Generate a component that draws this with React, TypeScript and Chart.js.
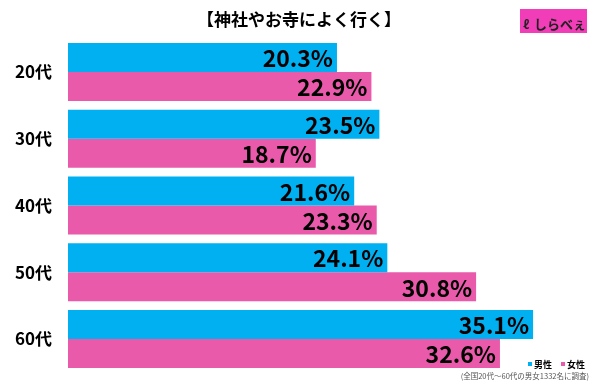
import React, { useEffect, useRef } from "react";
import { Chart, registerables } from "chart.js";

Chart.register(...registerables);

const categories = ["20代", "30代", "40代", "50代", "60代"];
const maleValues = [20.3, 23.5, 21.6, 24.1, 35.1];
const femaleValues = [22.9, 18.7, 23.3, 30.8, 32.6];
const seriesNames = ["男性", "女性"];
const titleText = "【神社やお寺によく行く】";
const footnoteText = "(全国20代～60代の男女1332名に調査)";
const logoText = "しらべぇ";

const BLUE = "#00B0F0";
const PINK = "#E95AAB";
const JP = '"Noto Sans CJK JP", "Noto Sans", sans-serif';

const decorPlugin = {
  id: "decor",
  afterDatasetsDraw(chart: any) {
    const ctx = chart.ctx as CanvasRenderingContext2D;
    ctx.save();
    // value labels
    ctx.fillStyle = "#000";
    ctx.font = `bold 23px ${JP}`;
    ctx.textAlign = "right";
    ctx.textBaseline = "middle";
    chart.data.datasets.forEach((ds: any, di: number) => {
      const meta = chart.getDatasetMeta(di);
      meta.data.forEach((el: any, i: number) => {
        ctx.fillText(ds.data[i].toFixed(1) + "%", el.x - 4, el.y + 1);
      });
    });
    // title
    ctx.textAlign = "center";
    ctx.font = `bold 17px ${JP}`;
    ctx.fillText(titleText, 299, 20);
    // logo
    ctx.fillStyle = "#F23DB8";
    ctx.fillRect(520, 9, 67, 24);
    ctx.fillStyle = "#222";
    ctx.font = `bold 12px ${JP}`;
    ctx.textAlign = "left";
    ctx.fillText("ℓ", 523, 24);
    ctx.font = `bold 13px ${JP}`;
    ctx.fillText(logoText, 534, 24);
    // legend
    ctx.font = `bold 9px ${JP}`;
    ctx.fillStyle = BLUE;
    ctx.fillRect(528, 362, 4, 4);
    ctx.fillStyle = "#000";
    ctx.fillText(seriesNames[0], 534, 364.5);
    ctx.fillStyle = PINK;
    ctx.fillRect(561, 362, 4, 4);
    ctx.fillStyle = "#000";
    ctx.fillText(seriesNames[1], 567, 364.5);
    // footnote
    ctx.font = `7.5px ${JP}`;
    ctx.fillStyle = "#555";
    ctx.textAlign = "right";
    ctx.fillText(footnoteText, 589, 376);
    ctx.restore();
  },
};

export default function App() {
  const ref = useRef<HTMLCanvasElement>(null);
  useEffect(() => {
    if (!ref.current) return;
    const chart = new Chart(ref.current, {
      type: "bar",
      data: {
        labels: categories,
        datasets: [
          { label: seriesNames[0], data: maleValues, backgroundColor: BLUE, borderWidth: 0 },
          { label: seriesNames[1], data: femaleValues, backgroundColor: PINK, borderWidth: 0 },
        ],
      },
      options: {
        indexAxis: "y",
        responsive: false,
        animation: false,
        devicePixelRatio: 1,
        layout: { padding: { top: 38.6, bottom: 11.6, left: 0, right: 2 } },
        datasets: { bar: { categoryPercentage: 0.87, barPercentage: 1 } },
        scales: {
          x: { display: false, min: 0, max: 40 },
          y: {
            grid: { display: false, drawTicks: false, tickLength: 0 },
            border: { display: false },
            ticks: { color: "#000", font: { family: JP, size: 17, weight: "bold" }, padding: 16 },
            afterFit: (s: any) => {
              s.width = 68;
              s.paddingTop = 0;
              s.paddingBottom = 0;
            },
          },
        },
        plugins: { legend: { display: false }, tooltip: { enabled: false }, title: { display: false } },
      } as any,
      plugins: [decorPlugin],
    });
    return () => chart.destroy();
  }, []);
  return (
    <div style={{ position: "absolute", left: 0, top: 0, width: 600, height: 384, background: "#fff" }}>
      <canvas ref={ref} width={600} height={384} />
    </div>
  );
}
